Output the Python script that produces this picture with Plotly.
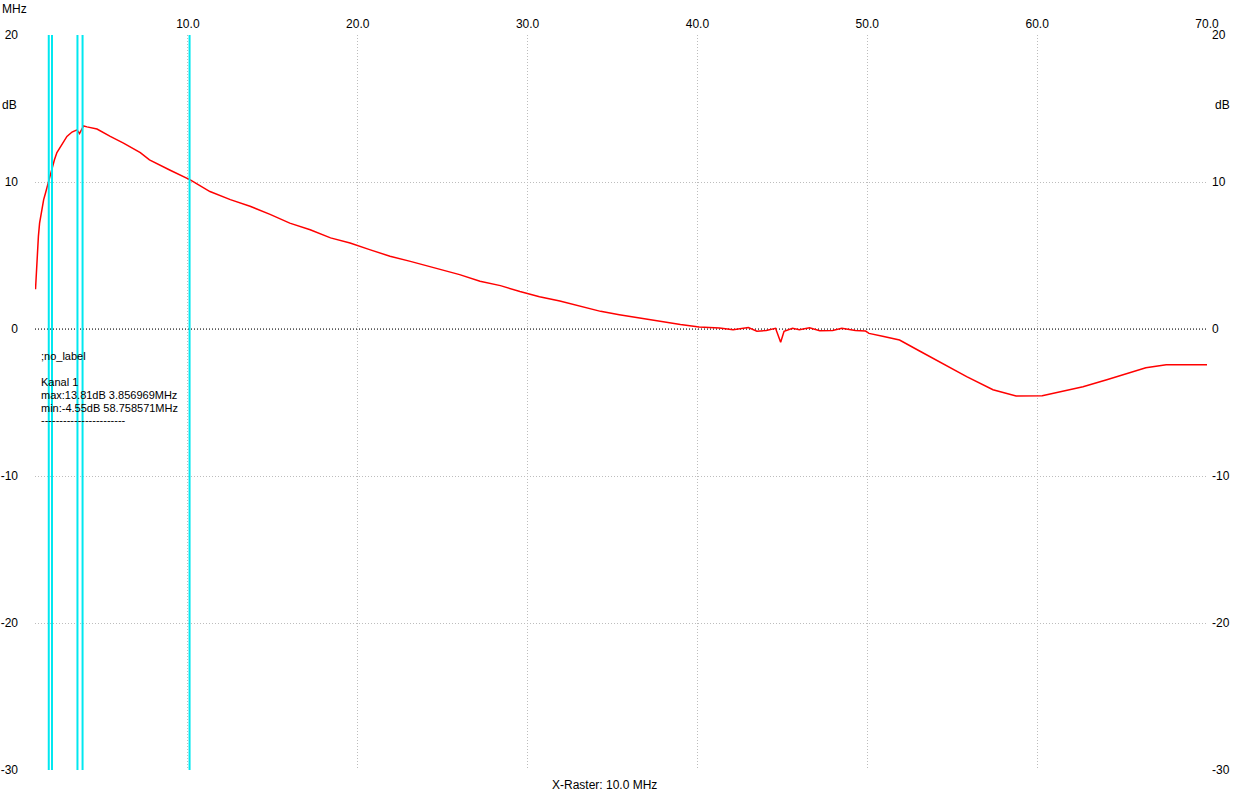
import plotly.graph_objects as go

# ---- data ----
freq_mhz = [1.03, 1.08, 1.12, 1.2, 1.27, 1.39, 1.51, 1.62, 1.74, 1.86, 1.98, 2.14, 2.29, 2.45,
            2.61, 2.88, 3.18, 3.47, 3.62, 3.76, 3.86, 4.06, 4.65, 5.43, 6.21, 7.2, 7.74, 8.96,
            10.14, 11.3, 12.5, 13.66, 14.84, 16.0, 17.2, 18.4, 19.55, 20.7, 21.9, 23.1, 24.25,
            25.4, 26.0, 27.2, 28.4, 29.55, 30.7, 31.9, 33.1, 34.3, 35.4, 36.6, 37.8, 39.0, 40.1,
            41.3, 42.1, 43.0, 43.5, 44.05, 44.6, 44.9, 45.1, 45.6, 46.0, 46.6, 47.2, 47.96,
            48.5, 49.3, 49.9, 50.1, 50.9, 51.9, 53.05, 54.25, 55.85, 57.4, 58.76, 60.3, 61.3,
            62.7, 64.1, 65.6, 66.4, 67.6, 70.0]
gain_db = [2.7, 3.8, 4.9, 6.3, 7.2, 8.1, 8.8, 9.25, 9.8, 10.4, 10.95, 11.5, 12.0, 12.3,
           12.65, 13.1, 13.4, 13.55, 13.3, 13.6, 13.81, 13.75, 13.6, 13.1, 12.65, 12.0, 11.5, 10.8,
           10.15, 9.35, 8.8, 8.35, 7.8, 7.2, 6.75, 6.2, 5.85, 5.4, 4.95, 4.6, 4.25,
           3.9, 3.7, 3.25, 2.95, 2.55, 2.2, 1.9, 1.55, 1.2, 0.97, 0.75, 0.5, 0.3, 0.14,
           0.07, -0.05, 0.1, -0.15, -0.1, 0.05, -0.9, -0.15, 0.05, -0.05, 0.08, -0.12, -0.1,
           0.05, -0.1, -0.14, -0.3, -0.5, -0.75, -1.48, -2.22, -3.24, -4.13, -4.55, -4.54, -4.27,
           -3.93, -3.45, -2.9, -2.63, -2.43, -2.43]

marker_freqs = [1.81, 2.0, 3.5, 3.8, 10.1]   # cyan band markers (MHz)

x_ticks = [1, 10, 20, 30, 40, 50, 60, 70]
x_ticktext = ["", "10.0", "20.0", "30.0", "40.0", "50.0", "60.0", "70.0"]
y_ticks = [-30, -20, -10, 0, 10, 20]
y_ticktext = ["-30", "-20", "-10", "0", "10", "20"]
x_range = [1, 70]
y_range = [-30, 20]

info_lines = [";no_label", "", "Kanal 1", "max:13.81dB 3.856969MHz",
              "min:-4.55dB 58.758571MHz", "-----------------------"]

FONT = "Liberation Sans"
GRID = "#bdbdbd"

fig = go.Figure()

# cyan vertical markers
mx, my = [], []
for f in marker_freqs:
    mx += [f, f, None]
    my += [y_range[0], y_range[1], None]
fig.add_trace(go.Scatter(x=mx, y=my, mode="lines", yaxis="y2",
                         line=dict(color="#00e8f0", width=2), hoverinfo="skip",
                         showlegend=False))

# zero reference line (black dotted)
fig.add_trace(go.Scatter(x=x_range, y=[0, 0], mode="lines",
                         line=dict(color="black", width=1, dash="1px,2px"),
                         hoverinfo="skip", showlegend=False))

# measurement curve
fig.add_trace(go.Scatter(x=freq_mhz, y=gain_db, mode="lines",
                         line=dict(color="#ff0000", width=1.5), showlegend=False))

fig.update_layout(
    width=1242, height=805,
    margin=dict(l=35, r=35, t=35, b=35, autoexpand=False),
    paper_bgcolor="white", plot_bgcolor="white",
    font=dict(family=FONT, size=12, color="black"),
    xaxis=dict(range=x_range, side="top", tickvals=x_ticks, ticktext=x_ticktext,
               showgrid=True, gridcolor=GRID, griddash="1px,2px", gridwidth=1,
               zeroline=False, showline=False, ticks="", ticklabelstandoff=4,
               automargin=False, tickfont=dict(family=FONT, size=12)),
    yaxis=dict(range=y_range, tickvals=y_ticks, ticktext=y_ticktext,
               showgrid=True, gridcolor=GRID, griddash="1px,2px", gridwidth=1,
               zeroline=False, showline=False, ticks="", ticklabelstandoff=16,
               automargin=False, tickfont=dict(family=FONT, size=12)),
    yaxis2=dict(range=y_range, overlaying="y", side="right", tickvals=y_ticks,
                ticktext=y_ticktext, showgrid=False, zeroline=False, showline=False,
                ticks="", ticklabelstandoff=4, automargin=False,
                tickfont=dict(family=FONT, size=12)),
)

annotations = [
    dict(text="MHz", x=0, y=9, xref="paper", yref="paper", xanchor="left", yanchor="middle"),
    dict(text="dB", x=0, y=105, xref="paper", yref="paper", xanchor="left", yanchor="middle"),
    dict(text="dB", x=1213, y=105, xref="paper", yref="paper", xanchor="left", yanchor="middle"),
    dict(text="X-Raster: 10.0 MHz", x=604, y=785, xref="paper", yref="paper",
         xanchor="center", yanchor="middle"),
]
line_y = [356, 369, 382, 395, 408, 420]
for txt, ly in zip(info_lines, line_y):
    if txt:
        annotations.append(dict(text=txt, x=39, y=ly, xref="paper", yref="paper",
                                xanchor="left", yanchor="middle", font_size=11))

# convert pixel placements to paper coordinates
pw, ph = 1242 - 70, 805 - 70
final = []
for a in annotations:
    a = dict(a)
    a["x"] = (a["x"] - 35) / pw
    a["y"] = 1 - (a["y"] - 35) / ph
    a["showarrow"] = False
    a.setdefault("font", dict(family=FONT, size=12, color="black"))
    if "font_size" in a:
        a["font"] = dict(family=FONT, size=a.pop("font_size"), color="black")
    final.append(a)
fig.update_layout(annotations=final)

fig.write_html("out.html", config={"displayModeBar": False},
               post_script="document.body.style.margin='0';document.body.style.overflow='hidden';")
